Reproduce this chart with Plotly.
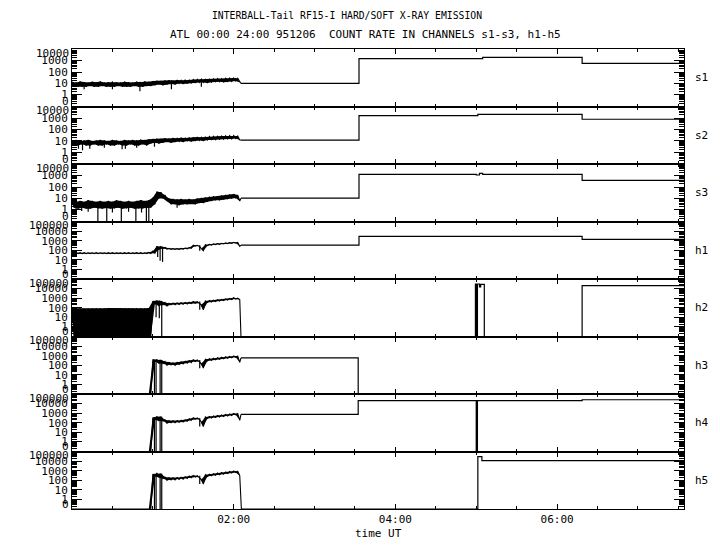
import plotly.graph_objects as go
from plotly.subplots import make_subplots

# ---------------- data (counts) ----------------
PANELS = ["s1", "s2", "s3", "h1", "h2", "h3", "h4", "h5"]
TOP_DECADE = {"s1": 4, "s2": 4, "s3": 4, "h1": 5, "h2": 5, "h3": 5, "h4": 5, "h5": 5}

# start times (hours UT) of the noisy high-resolution bins
NOISE_T = [0.00, 0.05, 0.10, 0.15, 0.20, 0.25, 0.30, 0.35, 0.40, 0.45,
           0.50, 0.55, 0.60, 0.65, 0.70, 0.75, 0.80, 0.85, 0.90, 0.95,
           1.00, 1.05, 1.10, 1.15, 1.20, 1.25, 1.30, 1.35, 1.40, 1.45,
           1.50, 1.55, 1.60, 1.65, 1.70, 1.75, 1.80, 1.85, 1.90, 1.95,
           2.00, 2.05]
BIN = 0.05
HALF_BIN = 0.025

# upper / lower edge of the dense noise band in each bin
S1_HI = [14, 12, 15, 13, 12, 14, 13, 15, 12, 13, 14, 13, 12, 14, 13, 12, 14, 13, 15, 14,
         16, 17, 16, 18, 19, 18, 20, 19, 21, 20, 22, 23, 24, 23, 25, 26, 27, 26, 28, 29, 30, 28]
S1_LO = [6, 5, 5, 5, 6, 5, 5, 6, 5, 5, 5, 6, 5, 5, 5, 6, 5, 5, 6, 6,
         7, 8, 7, 8, 9, 8, 10, 9, 10, 11, 11, 12, 12, 11, 13, 14, 14, 13, 15, 15, 16, 12]

S2_HI = [11, 12, 10, 11, 12, 10, 11, 12, 11, 10, 12, 11, 10, 12, 11, 12, 11, 13, 12, 14,
         15, 16, 15, 17, 16, 18, 17, 19, 18, 20, 21, 22, 21, 23, 24, 25, 26, 27, 28, 29, 30, 27]
S2_LO = [4, 4, 5, 4, 4, 5, 4, 4, 5, 4, 4, 5, 4, 4, 5, 4, 4, 5, 4, 6,
         7, 6, 7, 8, 7, 8, 9, 8, 10, 9, 10, 11, 10, 12, 12, 13, 14, 14, 15, 15, 16, 12]

S3_HI = [6, 5, 6, 5, 7, 6, 5, 6, 5, 6, 5, 7, 6, 5, 6, 5, 6, 7, 6, 7,
         12, 40, 35, 20, 10, 9, 8, 9, 8, 9, 8, 10, 11, 12, 14, 15, 16, 18, 20, 22, 24, 20]
S3_LO = [1.5, 1.2, 1.5, 1.2, 1.2, 1.5, 1.3, 1.2, 1.4, 1.2, 1.3, 1.5, 1.2, 1.3, 1.5, 1.2, 1.3, 1.2, 1.4, 1.5,
         3, 10, 10, 6, 3, 3, 2.5, 3, 3, 3.5, 3, 4, 4, 5, 6, 7, 7, 8, 9, 10, 11, 6]

H1_HI = [55, 54, 56, 55, 54, 55, 56, 54, 55, 56, 55, 54, 55, 56, 55, 54, 56, 55, 54, 60,
         80, 260, 240, 200, 160, 150, 150, 160, 170, 190, 340, 330, 150, 380, 420, 460, 500, 540, 580, 620, 680, 650]
H1_LO = [44, 45, 43, 44, 45, 44, 43, 45, 44, 43, 44, 45, 44, 43, 44, 45, 43, 44, 45, 46,
         50, 120, 150, 130, 120, 120, 120, 130, 140, 160, 270, 260, 90, 300, 350, 390, 420, 450, 480, 520, 560, 260]

H2_HI = [90, 85, 92, 88, 90, 86, 91, 89, 87, 92, 90, 88, 91, 89, 90, 87, 92, 88, 90, 95,
         500, 560, 520, 350, 300, 310, 320, 340, 360, 380, 450, 440, 200, 500, 560, 620, 680, 760, 850, 950, 1100, 1000]
H2_LO = [0, 0, 0, 0, 0, 0, 0, 0, 0, 0, 0, 0, 0, 0, 0, 0, 0, 0, 0, 0,
         250, 150, 200, 150, 200, 210, 220, 230, 250, 270, 300, 300, 60, 350, 400, 450, 500, 560, 620, 700, 800, 700]

H3_HI = [0, 0, 0, 0, 0, 0, 0, 0, 0, 0, 0, 0, 0, 0, 0, 0, 0, 0, 0, 0,
         400, 380, 350, 250, 200, 180, 200, 230, 260, 300, 380, 360, 150, 420, 480, 540, 600, 680, 760, 850, 950, 900]
H3_LO = [0, 0, 0, 0, 0, 0, 0, 0, 0, 0, 0, 0, 0, 0, 0, 0, 0, 0, 0, 0,
         250, 150, 150, 100, 110, 100, 120, 140, 160, 190, 250, 230, 50, 280, 330, 380, 420, 480, 540, 600, 680, 200]

H4_HI = [0, 0, 0, 0, 0, 0, 0, 0, 0, 0, 0, 0, 0, 0, 0, 0, 0, 0, 0, 0,
         350, 450, 420, 200, 170, 160, 170, 180, 200, 260, 330, 320, 120, 400, 460, 520, 580, 650, 720, 820, 950, 900]
H4_LO = [0, 0, 0, 0, 0, 0, 0, 0, 0, 0, 0, 0, 0, 0, 0, 0, 0, 0, 0, 0,
         200, 150, 150, 90, 100, 100, 110, 120, 140, 180, 230, 220, 40, 280, 320, 360, 400, 450, 500, 580, 680, 180]

H5_HI = [0, 0, 0, 0, 0, 0, 0, 0, 0, 0, 0, 0, 0, 0, 0, 0, 0, 0, 0, 0,
         450, 520, 480, 220, 190, 180, 190, 200, 230, 280, 320, 300, 120, 380, 420, 480, 560, 640, 720, 820, 920, 850]
H5_LO = [0, 0, 0, 0, 0, 0, 0, 0, 0, 0, 0, 0, 0, 0, 0, 0, 0, 0, 0, 0,
         250, 200, 150, 100, 110, 110, 120, 130, 150, 180, 220, 210, 40, 250, 290, 330, 380, 430, 500, 570, 650, 300]

# isolated downward spikes below the band (time in hours, lowest count)
S1_SPIKE_T = [0.15, 0.50, 0.84, 1.23, 1.60]
S1_SPIKE_V = [3, 3, 2, 3, 5]
S2_SPIKE_T = [0.08, 0.13, 0.22, 0.40, 0.62, 0.66, 0.80, 1.02]
S2_SPIKE_V = [2, 1.5, 2, 2.5, 1.8, 2, 2.5, 3]
S3_SPIKE_T = [0.05, 0.12, 0.20, 0.32, 0.43, 0.50, 0.61, 0.70, 0.79, 0.86, 0.92, 0.95, 1.30]
S3_SPIKE_V = [0.5, 0.7, 0.6, 0, 0, 0.5, 0, 0.6, 0, 0.5, 0, 0, 1.5]
H1_SPIKE_T = [1.06, 1.09, 1.12, 1.58]
H1_SPIKE_V = [20, 8, 6, 90]
H2_SPIKE_T = [1.04, 1.08, 1.11, 1.58]
H2_SPIKE_V = [10, 8, 0, 60]
H3_SPIKE_T = [1.02, 1.04, 1.09, 1.11, 1.58]
H3_SPIKE_V = [0, 0, 0, 0, 50]
H4_SPIKE_T = [1.02, 1.04, 1.09, 1.11, 1.58]
H4_SPIKE_V = [0, 0, 0, 0, 40]
H5_SPIKE_T = [1.02, 1.04, 1.09, 1.11, 1.58]
H5_SPIKE_V = [0, 0, 0, 0, 40]

# low-resolution (step) parts: level starts at each time, held until the next
S1_STEP_T = [2.09, 3.55, 5.08, 6.31]
S1_STEP_V = [10, 1450, 1900, 570]
S2_STEP_T = [2.09, 3.55, 5.02, 6.31]
S2_STEP_V = [12, 1580, 2100, 780]
S3_STEP_T = [2.09, 3.55, 5.00, 5.04, 5.08, 6.31]
S3_STEP_V = [10.5, 1270, 1100, 1500, 1270, 380]
H1_STEP_T = [2.09, 3.55, 6.31]
H1_STEP_V = [350, 2800, 1380]
H2_STEP_T = [2.09, 4.99, 5.005, 5.015, 5.04, 5.055, 5.10, 6.31]
H2_STEP_V = [0, 30000, 0, 30000, 15000, 27000, 0, 20000]
H3_STEP_T = [2.09, 3.54]
H3_STEP_V = [580, 0]
H4_STEP_T = [2.09, 3.54, 5.00, 5.015, 6.31]
H4_STEP_V = [760, 20000, 0, 20000, 25000]
H5_STEP_T = [2.095, 5.02, 5.07]
H5_STEP_V = [0, 29000, 11000]

END_T = 7.57

NOISE_HI = {"s1": S1_HI, "s2": S2_HI, "s3": S3_HI, "h1": H1_HI,
            "h2": H2_HI, "h3": H3_HI, "h4": H4_HI, "h5": H5_HI}
NOISE_LO = {"s1": S1_LO, "s2": S2_LO, "s3": S3_LO, "h1": H1_LO,
            "h2": H2_LO, "h3": H3_LO, "h4": H4_LO, "h5": H5_LO}
SPIKE_T = {"s1": S1_SPIKE_T, "s2": S2_SPIKE_T, "s3": S3_SPIKE_T, "h1": H1_SPIKE_T,
           "h2": H2_SPIKE_T, "h3": H3_SPIKE_T, "h4": H4_SPIKE_T, "h5": H5_SPIKE_T}
SPIKE_V = {"s1": S1_SPIKE_V, "s2": S2_SPIKE_V, "s3": S3_SPIKE_V, "h1": H1_SPIKE_V,
           "h2": H2_SPIKE_V, "h3": H3_SPIKE_V, "h4": H4_SPIKE_V, "h5": H5_SPIKE_V}
STEP_T = {"s1": S1_STEP_T, "s2": S2_STEP_T, "s3": S3_STEP_T, "h1": H1_STEP_T,
          "h2": H2_STEP_T, "h3": H3_STEP_T, "h4": H4_STEP_T, "h5": H5_STEP_T}
STEP_V = {"s1": S1_STEP_V, "s2": S2_STEP_V, "s3": S3_STEP_V, "h1": H1_STEP_V,
          "h2": H2_STEP_V, "h3": H3_STEP_V, "h4": H4_STEP_V, "h5": H5_STEP_V}

X_TICKS = [2, 4, 6]
X_TICK_TEXT = ["02:00", "04:00", "06:00"]
X_MINOR = [0.5, 1.0, 1.5, 2.5, 3.0, 3.5, 4.5, 5.0, 5.5, 6.5, 7.0, 7.5]

TITLE_1 = "INTERBALL-Tail RF15-I HARD/SOFT X-RAY EMISSION"
TITLE_2 = "ATL 00:00 24:00 951206  COUNT RATE IN CHANNELS s1-s3, h1-h5"
X_TITLE = "time UT"

OFF = 0.1   # zero counts are drawn at the floor of the pseudo-log axis
FONT = "DejaVu Sans Mono"

# ---------------- figure ----------------
fig = make_subplots(rows=8, cols=1, shared_xaxes=True, vertical_spacing=0)

for r, name in enumerate(PANELS, start=1):
    hi, lo = NOISE_HI[name], NOISE_LO[name]
    # solid envelope of the dense noise: lower edge, then upper edge filled to it
    fig.add_trace(go.Scatter(x=[t + HALF_BIN for t in NOISE_T], y=[v + OFF for v in lo],
                             mode="lines", line=dict(color="black", width=0),
                             showlegend=False, hoverinfo="skip"), row=r, col=1)
    fig.add_trace(go.Scatter(x=NOISE_T, y=[v + OFF for v in hi],
                             mode="lines", line=dict(color="black", width=0),
                             fill="tonexty", fillcolor="black",
                             showlegend=False, hoverinfo="skip"), row=r, col=1)
    # zig-zag of the individual samples (ragged edges)
    xs, ys = [], []
    for t, h, l in zip(NOISE_T, hi, lo):
        xs += [t, t + HALF_BIN]
        ys += [h + OFF, l + OFF]
    xs.append(STEP_T[name][0])
    ys.append(STEP_V[name][0] + OFF)
    fig.add_trace(go.Scatter(x=xs, y=ys, mode="lines",
                             line=dict(color="black", width=1.1),
                             showlegend=False, hoverinfo="skip"), row=r, col=1)
    # thin downward spikes
    px, py = [], []
    for t, v in zip(SPIKE_T[name], SPIKE_V[name]):
        k = min(int(t / BIN + 1e-9), len(hi) - 1)
        px += [t, t, None]
        py += [hi[k] + OFF, v + OFF, None]
    fig.add_trace(go.Scatter(x=px, y=py, mode="lines",
                             line=dict(color="black", width=1.2),
                             showlegend=False, hoverinfo="skip"), row=r, col=1)
    # low-resolution steps
    sx = STEP_T[name] + [END_T]
    sy = [v + OFF for v in STEP_V[name]] + [STEP_V[name][-1] + OFF]
    fig.add_trace(go.Scatter(x=sx, y=sy, mode="lines", line_shape="hv",
                             line=dict(color="black", width=1.2),
                             showlegend=False, hoverinfo="skip"), row=r, col=1)

    top = TOP_DECADE[name]
    mid_vals = [10 ** k for k in range(0, top)]
    minor_vals = [m * 10 ** k for k in range(-1, top) for m in range(2, 10)]
    fig.update_yaxes(type="log", range=[-1, top],
                     tickvals=[v + OFF for v in mid_vals],
                     ticktext=[str(v) for v in mid_vals],
                     ticks="inside", ticklen=10, tickwidth=1, tickcolor="black",
                     minor=dict(tickvals=minor_vals, ticks="inside", ticklen=5,
                                tickwidth=1, tickcolor="black"),
                     showline=True, linecolor="black", linewidth=1, mirror="ticks",
                     showgrid=False, zeroline=False, ticklabelstandoff=1,
                     tickfont=dict(family=FONT, size=11, color="black"),
                     row=r, col=1)
    fig.update_xaxes(range=[0, END_T], tickvals=X_TICKS, ticktext=X_TICK_TEXT,
                     ticks="inside", ticklen=5, tickwidth=1, tickcolor="black",
                     minor=dict(tickvals=X_MINOR, ticks="inside", ticklen=3,
                                tickwidth=1, tickcolor="black"),
                     showline=True, linecolor="black", linewidth=1, mirror="ticks",
                     showgrid=False, zeroline=False, ticklabelstandoff=0,
                     showticklabels=(r == 8),
                     tickfont=dict(family=FONT, size=11, color="black"),
                     row=r, col=1)

    yref = "y domain" if r == 1 else f"y{r} domain"
    fig.add_annotation(text="0", xref="paper", x=0, xanchor="right", xshift=-1,
                       yref=yref, y=0, yanchor="middle", yshift=5, showarrow=False,
                       font=dict(family=FONT, size=11, color="black"))
    fig.add_annotation(text=str(10 ** top), xref="paper", x=0, xanchor="right", xshift=-1,
                       yref=yref, y=1, yanchor="middle", yshift=-4, showarrow=False,
                       font=dict(family=FONT, size=11, color="black"))
    fig.add_annotation(text=name, xref="paper", x=1, xanchor="left", xshift=9,
                       yref=yref, y=0.5, yanchor="middle", showarrow=False,
                       font=dict(family=FONT, size=11, color="black"))

fig.add_annotation(text=TITLE_1, xref="paper", x=0, xanchor="left", xshift=138,
                   yref="paper", y=1, yanchor="middle", yshift=34, showarrow=False,
                   font=dict(family=FONT, size=9.75, color="black"))
fig.add_annotation(text=TITLE_2, xref="paper", x=0.48, xanchor="center",
                   yref="paper", y=1, yanchor="middle", yshift=15, showarrow=False,
                   font=dict(family=FONT, size=11, color="black"))
fig.add_annotation(text=X_TITLE, xref="paper", x=0.5, xanchor="center",
                   yref="paper", y=0, yanchor="middle", yshift=-24, showarrow=False,
                   font=dict(family=FONT, size=11, color="black"))

fig.update_layout(width=720, height=550, margin=dict(l=72, r=36, t=49, b=41),
                  paper_bgcolor="white", plot_bgcolor="white")

fig.write_html("out.html", config={"displayModeBar": False},
               post_script="document.body.style.margin='0';document.body.style.padding='0';")
